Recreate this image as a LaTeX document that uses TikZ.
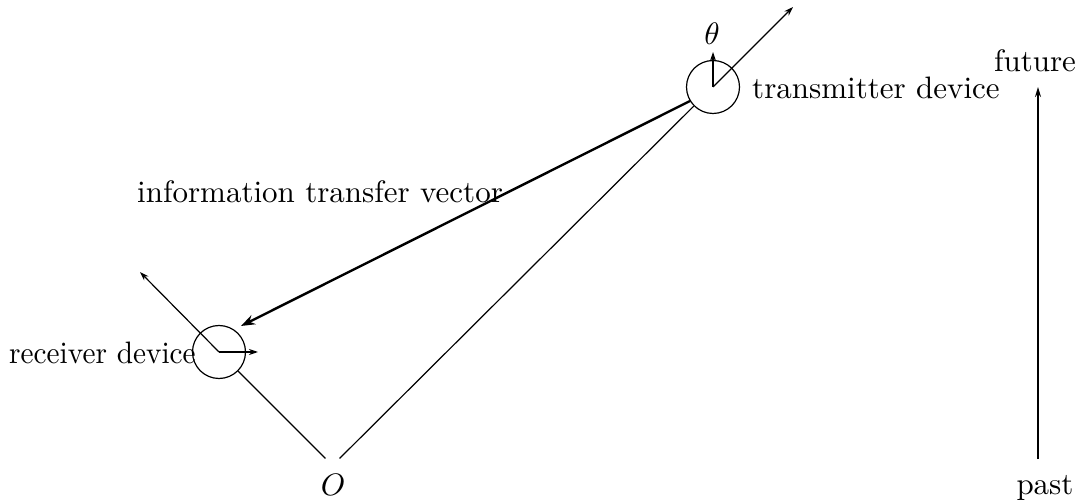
\documentclass[tikz,border=0pt]{standalone}
\usetikzlibrary{arrows.meta}
\newcommand{\bigtxt}[1]{\scalebox{3.1}{#1}}
\begin{document}
\begin{tikzpicture}[x=1pt,y=-1pt,
  lbl/.style={inner sep=0pt},
  thin/.style={line width=1.2pt},
  arr/.style={thin,-{Stealth[length=9pt,width=6pt]}},
  thickarr/.style={line width=2.4pt,-{Stealth[length=14pt,width=10pt]}},
  dev/.style={circle, draw, line width=1.2pt, minimum size=53pt, inner sep=0pt}]
\useasboundingbox (0,0) rectangle (1084,502);
% devices
\node[dev] (T) at (713,87) {};
\node[dev] (R) at (219,352) {};
\coordinate (Tc) at (713,87);
\coordinate (Rc) at (219,352);
\coordinate (O) at (332.5,465.5);
\node[lbl, anchor=base] (Olab) at (333,495) {\bigtxt{$O$}};
% lines from O
\draw[thin, shorten <=10pt] (O) -- (T);
\draw[thin, shorten <=10pt] (O) -- (R);
% transmitter axes
\coordinate (Tup) at (713,52);
\coordinate (Tdir) at (793,7);
\draw[arr] (Tc) -- (Tup);
\draw[arr] (Tc) -- (Tdir);
\node[lbl, anchor=base] (theta) at (712,45) {\bigtxt{$\theta$}};
% receiver axes
\coordinate (Rright) at (258,352);
\coordinate (Rdir) at (140,272);
\draw[arr] (Rc) -- (Rright);
\draw[arr] (Rc) -- (Rdir);
% information transfer vector
\coordinate (Istart) at (690,101);
\coordinate (Iend) at (241,326);
\draw[thickarr] (Istart) -- (Iend);
% labels
\node[lbl, anchor=base west] (tlab) at (752,99) {\bigtxt{transmitter device}};
\node[lbl, anchor=base west] (rlab) at (9,363) {\scalebox{2.93}[3.1]{receiver device}};
\node[lbl, anchor=base west] (ilab) at (137,203) {\bigtxt{information transfer vector}};
% time arrow
\node[lbl, anchor=base] (fut) at (1035,72) {\bigtxt{future}};
\node[lbl, anchor=base] (past) at (1045,494) {\bigtxt{past}};
\coordinate (ta) at (1038,459);
\coordinate (tb) at (1038,87);
\draw[line width=1.6pt,-{Stealth[length=10pt,width=6pt]}] (ta) -- (tb);
\end{tikzpicture}
\end{document}
